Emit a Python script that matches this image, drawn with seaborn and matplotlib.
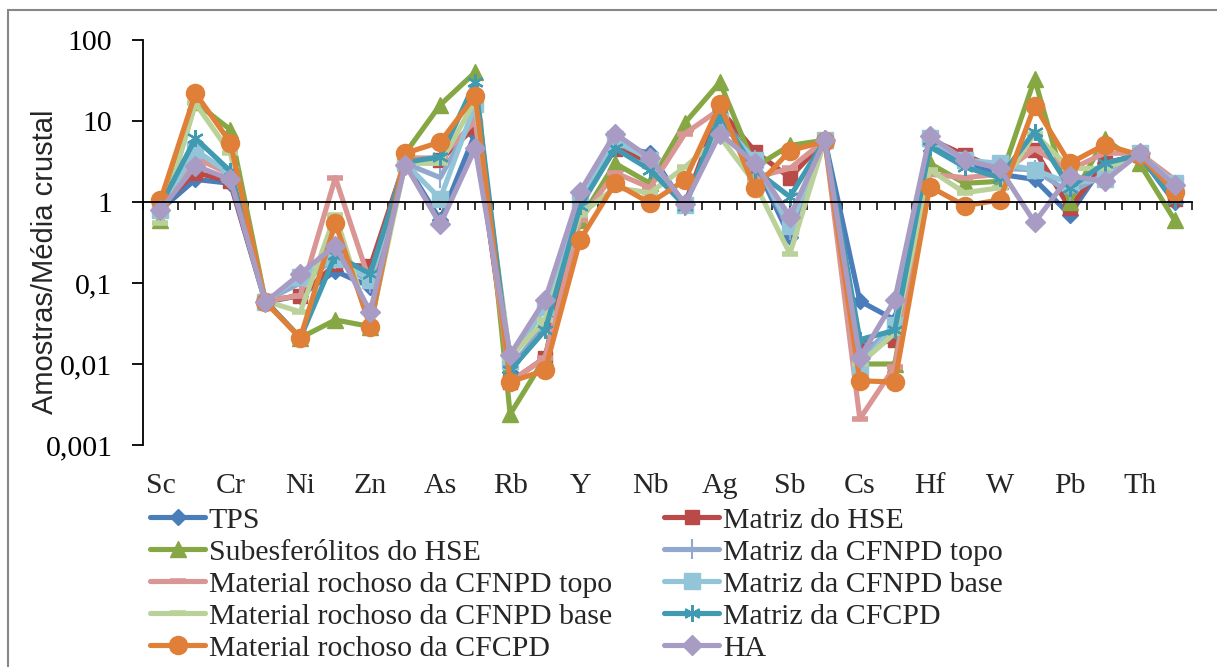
import numpy as np
import pandas as pd
import seaborn as sns
import matplotlib
matplotlib.use("Agg")
import matplotlib.pyplot as plt
from matplotlib.patches import Rectangle
from matplotlib.ticker import FixedLocator, NullLocator

# Elements (every other one is labelled on the axis)
elements = ["Sc", "V", "Cr", "Co", "Ni", "Cu", "Zn", "Ga", "As", "Br",
            "Rb", "Sr", "Y", "Zr", "Nb", "Mo", "Ag", "Sn", "Sb", "Te",
            "Cs", "Ba", "Hf", "Ta", "W", "Tl", "Pb", "Bi", "Th", "U"]

# Sample / mean crustal abundance ratios
tps = [0.8, 1.9, 1.7, 0.058, 0.07, 0.14, 0.09, 3.0, 0.6, 7.0,
       0.008, 0.03, 0.9, 5.0, 4.0, 0.9, 12, 3.0, 0.37, 5.8,
       0.06, 0.035, 5.5, 3.2, 2.2, 1.9, 0.7, 3.0, 3.8, 1.0]
matriz_hse = [0.9, 2.3, 1.8, 0.06, 0.07, 0.17, 0.16, 3.2, 3.3, 8.5,
              0.006, 0.012, 1.0, 4.5, 3.2, 0.95, 14, 4.2, 2.0, 5.8,
              0.016, 0.02, 6.0, 3.8, 2.5, 4.4, 0.85, 3.0, 3.8, 1.1]
subesferolitos_hse = [0.6, 17, 7.8, 0.06, 0.021, 0.035, 0.029, 4.0, 15.8, 40,
                      0.0024, 0.012, 0.6, 3.0, 1.7, 9.5, 30, 2.7, 5.0, 5.8,
                      0.01, 0.01, 3.0, 1.7, 1.8, 33, 1.0, 6.0, 3.0, 0.6]
matriz_cfnpd_topo = [0.85, 4.0, 2.3, 0.06, 0.1, 0.2, 0.1, 3.0, 2.0, 12,
                     0.009, 0.03, 1.0, 5.5, 3.5, 0.9, 10, 3.3, 0.45, 5.8,
                     0.012, 0.03, 5.8, 3.3, 2.6, 2.5, 1.3, 2.2, 3.8, 1.4]
rocha_cfnpd_topo = [0.9, 3.5, 2.2, 0.06, 0.07, 2.0, 0.1, 3.5, 3.5, 10,
                    0.006, 0.012, 0.6, 2.3, 1.5, 7.0, 14, 2.0, 2.6, 5.8,
                    0.0021, 0.0093, 2.2, 2.0, 2.2, 4.5, 2.5, 4.0, 4.0, 1.9]
matriz_cfnpd_base = [0.8, 4.4, 2.2, 0.058, 0.12, 0.2, 0.11, 3.0, 1.1, 16,
                     0.011, 0.05, 1.05, 6.0, 3.3, 0.92, 10, 3.3, 0.5, 5.8,
                     0.0093, 0.03, 6.1, 3.3, 3.0, 2.5, 1.7, 1.9, 4.0, 1.7]
rocha_cfnpd_base = [0.55, 16.5, 4.0, 0.06, 0.044, 0.69, 0.03, 3.0, 3.0, 18,
                    0.012, 0.035, 0.7, 1.5, 1.3, 2.7, 6.4, 1.7, 0.23, 5.8,
                    0.01, 0.024, 2.5, 1.3, 1.5, 7.0, 2.6, 2.6, 3.8, 1.2]
matriz_cfcpd = [0.9, 6.1, 2.4, 0.06, 0.021, 0.22, 0.13, 3.1, 3.6, 30,
                0.0084, 0.026, 0.88, 4.6, 2.5, 0.9, 12, 2.5, 1.16, 5.8,
                0.02, 0.026, 4.8, 2.7, 2.0, 7.4, 1.5, 3.0, 3.8, 1.05]
rocha_cfcpd = [1.05, 22, 5.4, 0.058, 0.021, 0.55, 0.029, 4.0, 5.5, 20.5,
               0.006, 0.0084, 0.34, 1.7, 0.97, 1.87, 16, 1.47, 4.3, 5.6,
               0.0062, 0.006, 1.55, 0.9, 1.06, 15.5, 3.0, 5.1, 3.8, 1.34]
ha = [0.8, 2.8, 1.9, 0.058, 0.13, 0.29, 0.044, 2.9, 0.53, 4.6,
      0.013, 0.062, 1.34, 7.0, 3.5, 0.95, 7.0, 3.0, 0.66, 5.8,
      0.012, 0.062, 6.5, 3.3, 2.6, 0.56, 2.1, 1.8, 4.0, 1.6]

series_names = ["TPS", "Matriz do HSE", "Subesferólitos do HSE",
                "Matriz da CFNPD topo", "Material rochoso da CFNPD topo",
                "Matriz da CFNPD base", "Material rochoso da CFNPD base",
                "Matriz da CFCPD", "Material rochoso da CFCPD", "HA"]
series_values = [tps, matriz_hse, subesferolitos_hse, matriz_cfnpd_topo,
                 rocha_cfnpd_topo, matriz_cfnpd_base, rocha_cfnpd_base,
                 matriz_cfcpd, rocha_cfcpd, ha]

y_ticks = [0.001, 0.01, 0.1, 1, 10, 100]
y_tick_labels = ["0,001", "0,01", "0,1", "1", "10", "100"]

# Styling per series: colour, marker, marker size, marker edge width
styles = [
    ("#4A7EBB", "D", 8, 1.0),
    ("#B94A48", "s", 10, 1.0),
    ("#86A844", "^", 12, 1.0),
    ("#92A9CF", "|", 14, 1.5),
    ("#D99694", "_", 11, 4.0),
    ("#93C5D8", "s", 11, 1.0),
    ("#BAD29A", "_", 11, 4.0),
    ("#3F9AB2", (6, 2, 0), 12, 1.6),
    ("#E07F37", "o", 13, 1.0),
    ("#A89CC4", "D", 10, 1.0),
]

FS = 21.5

sns.set_style("white")
plt.rcParams["font.family"] = ["Liberation Serif", "DejaVu Serif"]

fig = plt.figure(figsize=(12.17, 6.67), dpi=100)
W, H = 1217, 667
ax = fig.add_axes([143 / W, 1 - 445 / H, 1049 / W, 405 / H])

positions = np.arange(len(elements))
lines = []
for name, vals, (col, mk, ms, mew) in zip(series_names, series_values, styles):
    df = pd.DataFrame({"pos": positions, "valor": vals})
    sns.lineplot(data=df, x="pos", y="valor", ax=ax, color=col,
                 marker=mk, markersize=ms, markeredgewidth=mew,
                 markeredgecolor=col, markerfacecolor=col,
                 linewidth=3.7, errorbar=None, estimator=None, sort=False,
                 solid_joinstyle="round", solid_capstyle="round")
    ln = ax.lines[-1]
    ln.set_label(name)
    lines.append(ln)

ax.set_yscale("log")
ax.set_ylim(0.001, 100)
ax.set_xlim(-0.5, len(elements) - 0.5)
ax.yaxis.set_major_locator(FixedLocator(y_ticks))
ax.set_yticklabels(y_tick_labels)
ax.yaxis.set_minor_locator(NullLocator())
ax.tick_params(axis="y", direction="out", length=8, width=1.3, pad=14,
               labelsize=FS, left=True, colors="black")

# Horizontal axis crosses at 1; tick marks at every half category
ax.spines["bottom"].set_position(("data", 1))
ax.xaxis.set_major_locator(FixedLocator(np.arange(-0.5, len(elements), 0.5)))
ax.xaxis.set_minor_locator(NullLocator())
ax.tick_params(axis="x", direction="out", length=6, width=1.3,
               labelbottom=False, bottom=True)
for s in ["top", "right"]:
    ax.spines[s].set_visible(False)
for s in ["left", "bottom"]:
    ax.spines[s].set_color("black")
    ax.spines[s].set_linewidth(1.3)
ax.set_xlabel("")

# Element names below the plotting area
sec = ax.secondary_xaxis("bottom")
sec.set_xticks(positions[::2], labels=elements[::2])
sec.tick_params(length=0, pad=20, labelsize=FS)
sec.spines["bottom"].set_visible(False)

ax.set_ylabel("Amostras/Média crustal", fontfamily="Liberation Sans",
              fontsize=21)
ax.yaxis.set_label_coords(-0.08, 0.452)

# Legend: two columns, filled row by row
order = [0, 2, 4, 6, 8, 1, 3, 5, 7, 9]
leg = ax.legend([lines[i] for i in order], [series_names[i] for i in order],
                ncol=2, loc="upper left",
                bbox_to_anchor=(150 / W, 1 - 507 / H),
                bbox_transform=fig.transFigure, frameon=False,
                fontsize=FS, borderpad=0, borderaxespad=0,
                handlelength=1.85, handletextpad=0.12, columnspacing=1.75,
                labelspacing=0.17, numpoints=1)

# Chart area frame
fig.add_artist(Rectangle((8 / W, -0.05), 1.2, (H - 10) / H + 0.05,
                         transform=fig.transFigure, fill=False,
                         edgecolor="#878787", linewidth=1.5))

fig.savefig("out.png", dpi=100)
